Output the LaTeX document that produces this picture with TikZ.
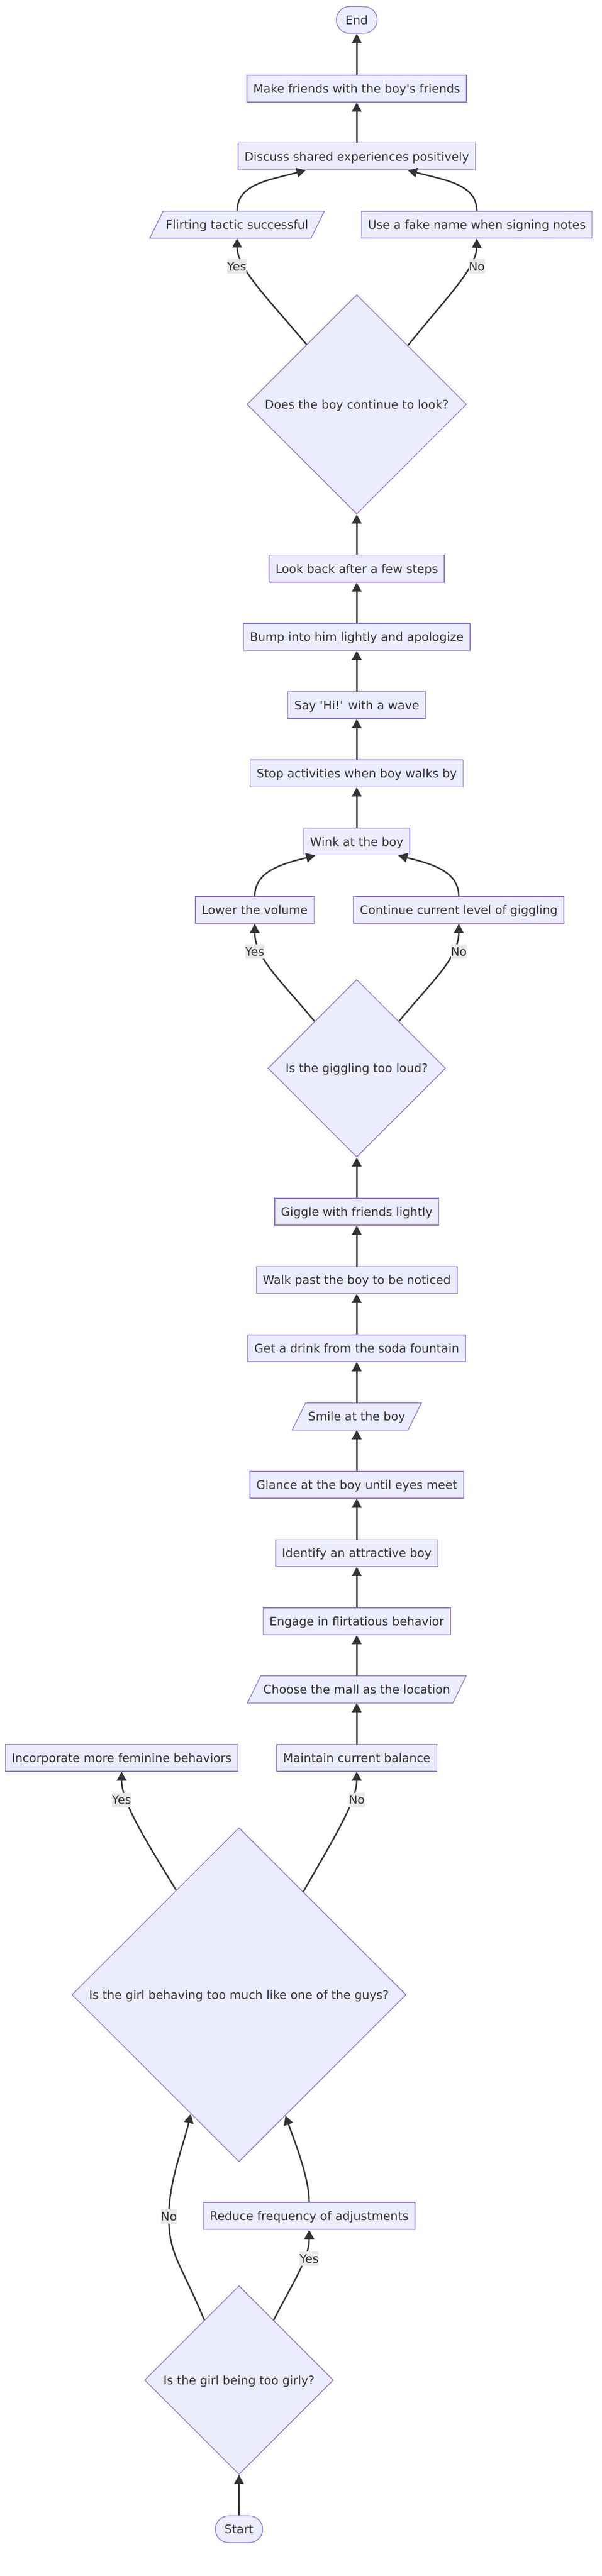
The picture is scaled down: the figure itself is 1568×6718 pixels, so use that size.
\documentclass[tikz,border=0pt]{standalone}
\usepackage{fontspec}
\newfontfamily\dejavu{DejaVu Sans}
\usetikzlibrary{shapes.geometric,arrows.meta,calc}
\pgfdeclarelayer{bg}
\pgfsetlayers{bg,main}
\definecolor{nfill}{HTML}{ECECFF}
\definecolor{nstroke}{HTML}{9370DB}
\definecolor{ntext}{HTML}{333333}
\definecolor{eline}{HTML}{333333}
\definecolor{lbg}{HTML}{E8E8E8}
\tikzset{
  base/.style={font=\dejavu\fontsize{15.4pt}{18pt}\selectfont, text=ntext, text height=11.2pt, text depth=0pt, align=center},
  box/.style={base, rectangle, draw=nstroke, fill=nfill, line width=1pt, minimum height=35pt, inner xsep=8.25pt, inner ysep=0pt},
  stadium/.style={box, rounded corners=17.5pt, inner xsep=12pt},
  parabox/.style={base, rectangle, minimum height=35pt, inner xsep=12pt, inner ysep=0pt},
  decision/.style={base, diamond, aspect=1, draw=nstroke, fill=nfill, line width=1pt, inner sep=0pt},
  elabel/.style={base, fill=lbg, inner xsep=0pt, inner ysep=0pt, minimum height=19pt},
  edge/.style={draw=eline, line width=1.9pt, -{Triangle[length=12pt,width=12.5pt]}},
  paraline/.style={draw=nstroke, fill=nfill, line width=1pt}
}
\newcommand{\drawpara}[1]{%
  \begin{pgfonlayer}{bg}
    \path[paraline] ($(#1.south west)+(-17.5,0)$) -- ($(#1.north west)+(17.5,0)$) -- ($(#1.north east)+(17.5,0)$) -- ($(#1.south east)+(-17.5,0)$) -- cycle;
  \end{pgfonlayer}}
\begin{document}
\begin{tikzpicture}[x=0.5pt,y=-0.5pt]
\begin{pgfonlayer}{bg}
\fill[white] (0,0) rectangle (1568,6718);
\end{pgfonlayer}
\useasboundingbox (0,0) rectangle (1568,6718);

% nodes
\node[stadium] (end) at (930,52) {End};
\node[box] (make) at (930,231) {Make friends with the boy's friends};
\node[box] (discuss) at (930,408) {Discuss shared experiences positively};
\node[parabox] (flirt) at (618,586) {Flirting tactic successful};
\drawpara{flirt}
\node[box] (fake) at (1243,586) {Use a fake name when signing notes};
\node[decision, minimum width=286pt, minimum height=286pt] (dlook) at (930,1054.5) {Does the boy continue to look?};
\node[box] (look) at (930,1483) {Look back after a few steps};
\node[box] (bump) at (930,1661) {Bump into him lightly and apologize};
\node[box] (sayhi) at (930,1839) {Say 'Hi!' with a wave};
\node[box] (stop) at (930,2017) {Stop activities when boy walks by};
\node[box] (wink) at (930,2195) {Wink at the boy};
\node[box] (lower) at (664,2373) {Lower the volume};
\node[box] (cont) at (1196,2373) {Continue current level of giggling};
\node[decision, minimum width=231.5pt, minimum height=231.5pt] (dloud) at (930,2786) {Is the giggling too loud?};
\node[box] (giggle) at (930,3160) {Giggle with friends lightly};
\node[box] (walk) at (930,3338) {Walk past the boy to be noticed};
\node[box] (drink) at (930,3516) {Get a drink from the soda fountain};
\node[parabox] (smile) at (930,3694) {Smile at the boy};
\drawpara{smile}
\node[box] (glance) at (930,3872) {Glance at the boy until eyes meet};
\node[box] (identify) at (930,4050) {Identify an attractive boy};
\node[box] (engage) at (930,4228) {Engage in flirtatious behavior};
\node[parabox] (mall) at (930,4406) {Choose the mall as the location};
\drawpara{mall}
\node[box] (incorp) at (317,4584) {Incorporate more feminine behaviors};
\node[box] (maintain) at (930,4584) {Maintain current balance};
\node[decision, minimum width=435.5pt, minimum height=435.5pt] (dguys) at (623,5202) {Is the girl behaving too much like one of the guys?};
\node[box] (reduce) at (806,5779) {Reduce frequency of adjustments};
\node[decision, minimum width=246pt, minimum height=246pt] (dgirly) at (623,6207) {Is the girl being too girly?};
\node[stadium] (start) at (623,6596) {Start};

\coordinate (lno4) at (440,5780);

% edges
\draw[edge] (start.north) -- (dgirly.south);
\draw[edge] (dgirly.120) .. controls (470,5900) and (440,5880) .. (lno4) .. controls (440,5690) and (478,5595) .. (dguys.248.5);
\draw[edge] (dgirly.60) .. controls (765,5950) and (806,5890) .. (reduce.south);
\draw[edge] (reduce.north) .. controls (806,5680) and (770,5590) .. (dguys.291.5);
\draw[edge] (dguys.121.2) .. controls (380,4800) and (317,4700) .. (incorp.south);
\draw[edge] (dguys.58.8) .. controls (866,4800) and (930,4700) .. (maintain.south);
\draw[edge] (maintain.north) -- (mall.south);
\draw[edge] (mall.north) -- (engage.south);
\draw[edge] (engage.north) -- (identify.south);
\draw[edge] (identify.north) -- (glance.south);
\draw[edge] (glance.north) -- (smile.south);
\draw[edge] (smile.north) -- (drink.south);
\draw[edge] (drink.north) -- (walk.south);
\draw[edge] (walk.north) -- (giggle.south);
\draw[edge] (giggle.north) -- (dloud.south);
\draw[edge] (dloud.132) .. controls (740,2565) and (664,2500) .. (lower.south);
\draw[edge] (dloud.48) .. controls (1120,2565) and (1196,2500) .. (cont.south);
\draw[edge] (lower.north) .. controls (664,2270) and (740,2252) .. ($(wink.south)+(-108,0)$);
\draw[edge] (cont.north) .. controls (1196,2270) and (1120,2252) .. ($(wink.south)+(108,0)$);
\draw[edge] (wink.north) -- (stop.south);
\draw[edge] (stop.north) -- (sayhi.south);
\draw[edge] (sayhi.north) -- (bump.south);
\draw[edge] (bump.north) -- (look.south);
\draw[edge] (look.north) -- (dlook.south);
\draw[edge] (dlook.130.9) .. controls (700,780) and (618,700) .. (flirt.south);
\draw[edge] (dlook.49.1) .. controls (1160,780) and (1242,700) .. (fake.south);
\draw[edge] (flirt.north) .. controls (618,480) and (700,470) .. ($(discuss.south)+(-133,0)$);
\draw[edge] (fake.north) .. controls (1243,480) and (1160,470) .. ($(discuss.south)+(133,0)$);
\draw[edge] (discuss.north) -- (make.south);
\draw[edge] (make.north) -- (end.south);

% edge labels
\node[elabel] (yes1) at (617,695) {Yes};
\node[elabel] (no1) at (1243,695) {No};
\node[elabel] (yes2) at (664,2482) {Yes};
\node[elabel] (no2) at (1196,2482) {No};
\node[elabel] (yes3) at (317,4694) {Yes};
\node[elabel] (no3) at (930,4694) {No};
\node[elabel] (no4) at (lno4) {No};
\node[elabel] (yes4) at (806,5890) {Yes};
\end{tikzpicture}
\end{document}
